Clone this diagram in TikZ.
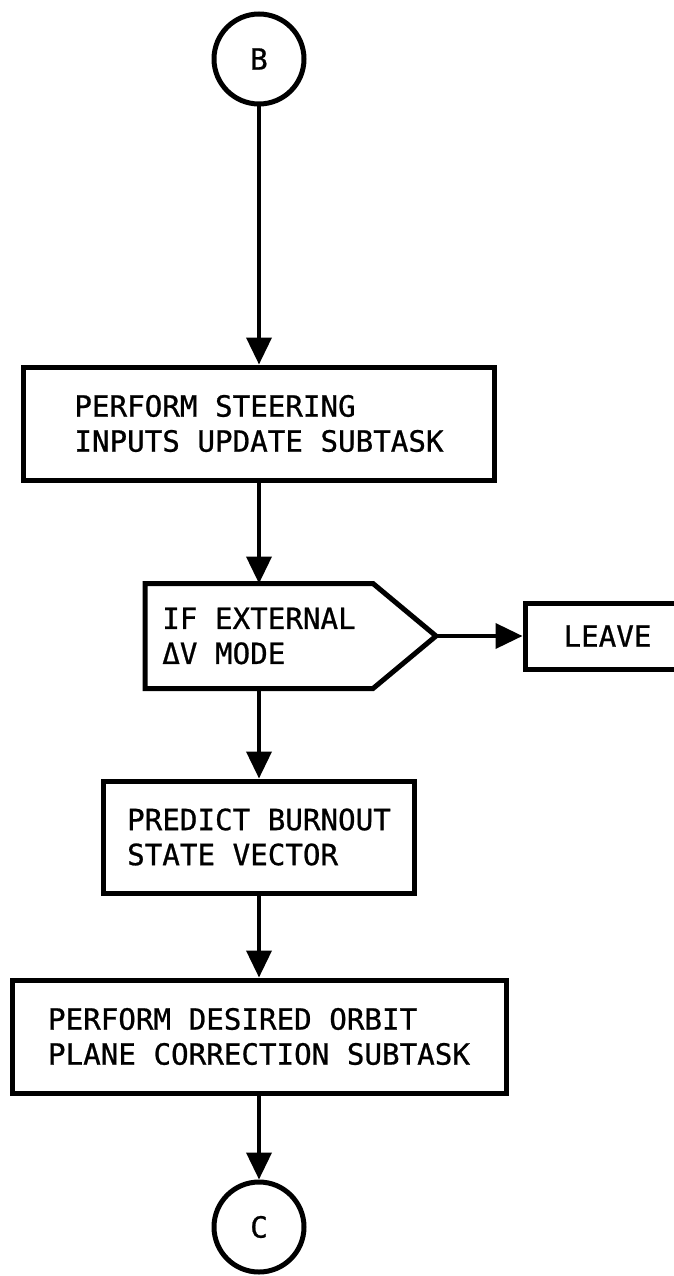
\documentclass[tikz,border=0pt]{standalone}
\usepackage{fontspec}
\setmonofont[FakeBold=0.8]{DejaVu Sans Mono}
\usetikzlibrary{arrows.meta}

\begin{document}
\begin{tikzpicture}
        [x=1pt, y=-1pt,
        every node/.style={font=\ttfamily\fontsize{29.2}{35}\selectfont, align=left,
                     line width=5pt, inner sep=0pt},
        conn/.style={circle, draw, minimum size=90pt},
        blk/.style={rectangle, draw},
        flow/.style={line width=3.8pt, -{Triangle[length=27pt,width=25pt]}}]
        \useasboundingbox (0,0) rectangle (673,1276);
        \node[conn] (B) at (259,59) {B};
        \node[blk, minimum width=471pt, minimum height=113pt] (steer) at (259,423.5)
            {PERFORM STEERING\\INPUTS UPDATE SUBTASK};
        \node[minimum width=223pt, minimum height=100pt] (ifext) at (259,636)
            {IF EXTERNAL\\ΔV MODE};
        \draw[line width=5pt] (ifext.north west) -- (ifext.north east)
            -- ([xshift=63pt]ifext.east) coordinate (ifext tip)
            -- (ifext.south east) -- (ifext.south west) -- cycle;
        \node[blk, minimum width=165pt, minimum height=66pt] (leave) at (607.5,636) {LEAVE};
        \node[blk, minimum width=311pt, minimum height=112pt] (predict) at (259,837)
            {PREDICT BURNOUT\\STATE VECTOR};
        \node[blk, minimum width=494pt, minimum height=113pt] (orbit) at (259,1036.5)
            {PERFORM DESIRED ORBIT\\PLANE CORRECTION SUBTASK};
        \node[conn] (C) at (259,1227) {C};
        % flow lines
        \draw[flow] (B) -- (steer);
        \draw[flow] (steer) -- (ifext);
        \draw[flow] (ifext tip) -- (leave);
        \draw[flow] (ifext) -- (predict);
        \draw[flow] (predict) -- (orbit);
        \draw[flow] (orbit) -- (C);
\end{tikzpicture}
\end{document}
